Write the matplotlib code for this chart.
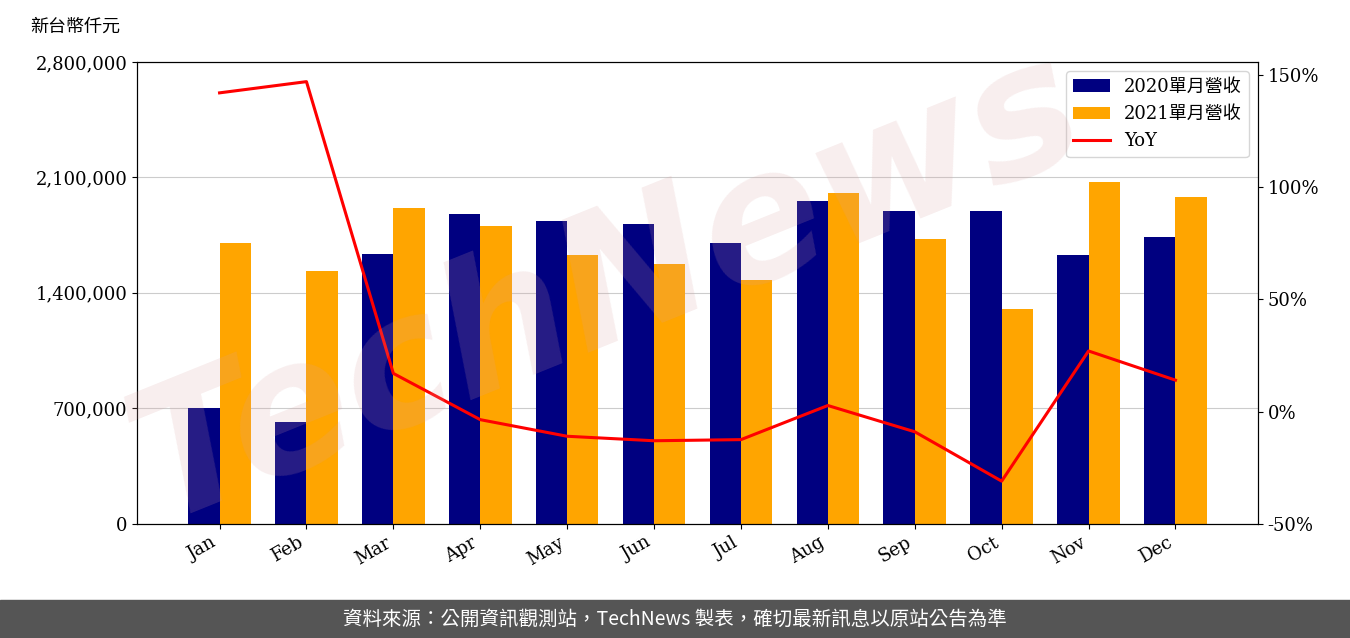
import numpy as np
import matplotlib.pyplot as plt
from matplotlib.ticker import FuncFormatter

months = ['Jan', 'Feb', 'Mar', 'Apr', 'May', 'Jun', 'Jul', 'Aug', 'Sep', 'Oct', 'Nov', 'Dec']
rev_2020 = [703000, 618000, 1636000, 1879000, 1836000, 1818000, 1703000, 1958000, 1897000, 1897000, 1630000, 1739000]
rev_2021 = [1703000, 1533000, 1915000, 1806000, 1630000, 1576000, 1479000, 2006000, 1727000, 1303000, 2073000, 1982000]
yoy = [142, 147, 17, -3.6, -11, -13, -12.5, 2.7, -9, -31, 27, 14]

fam = ['DejaVu Serif', 'Noto Sans CJK TC']
plt.rcParams['font.family'] = fam

fig = plt.figure(figsize=(13.5, 6.38), dpi=100)
ax = fig.add_axes([137/1350, 0.179, (1258-137)/1350, 0.903-0.179])
x = np.arange(len(months))
w = 0.36
ax.bar(x - w/2, rev_2020, w, color='#000080', label='2020單月營收', zorder=2)
ax.bar(x + w/2, rev_2021, w, color='#FFA500', label='2021單月營收', zorder=2)
ax.set_ylim(0, 2800000)
ax.set_yticks([0, 700000, 1400000, 2100000, 2800000])
ax.yaxis.set_major_formatter(FuncFormatter(lambda v, p: f'{int(v):,}'))
ax.grid(axis='y', color='#cccccc', zorder=0)
ax.set_xticks(x)
ax.set_xticklabels(months, rotation=30, ha='right')
ax.tick_params(labelsize=13)

ax2 = ax.twinx()
ax2.plot(x, yoy, color='red', lw=2.2, label='YoY', zorder=3)
ax2.set_ylim(-50, 155.8)
ax2.set_yticks([-50, 0, 50, 100, 150])
ax2.yaxis.set_major_formatter(FuncFormatter(lambda v, p: f'{int(v)}%'))
ax2.tick_params(labelsize=13)
ax2.set_xlim(-0.95, 11.95)

h1, l1 = ax.get_legend_handles_labels()
h2, l2 = ax2.get_legend_handles_labels()
ax2.legend(h1 + h2, l1 + l2, loc='upper right', fontsize=13)

fig.text(30/1350, 1 - 27/638, '新台幣仟元', fontsize=13, family=['Noto Sans CJK TC'], va='center')
fig.text(0.45, 0.55, 'TechNews', fontsize=130, color='#d9a0a0', alpha=0.18,
         rotation=22, ha='center', va='center', family=['DejaVu Sans'], weight='bold', style='italic')

fig.patches.append(plt.Rectangle((0, 0), 1, 38/638, transform=fig.transFigure,
                                 color='#555555', zorder=0))
fig.text(0.5, 19/638, '資料來源：公開資訊觀測站，TechNews 製表，確切最新訊息以原站公告為準',
         color='white', fontsize=14, ha='center', va='center',
         family=['Noto Sans CJK TC', 'DejaVu Sans'])

fig.savefig('out.png', dpi=100)
